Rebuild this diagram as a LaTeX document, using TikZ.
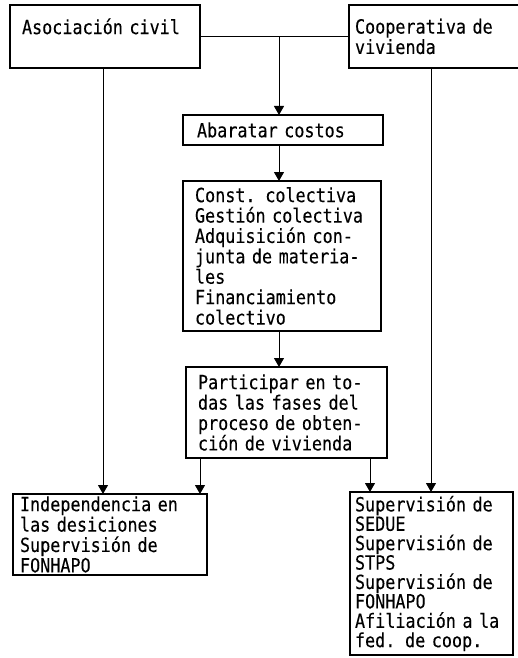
\documentclass[tikz,border=0pt]{standalone}
\usepackage{fontspec}
\usepackage{tikz}
\usetikzlibrary{positioning, arrows.meta, calc}
\newfontfamily\tw[FakeStretch=0.86,FakeBold=0.2]{DejaVu Sans Mono}
\tikzset{
    box/.style={
        draw=black,
        line width=1.6pt,
        anchor=north west,
        align=left,
        inner ysep=0pt,
        outer sep=0pt,
        font=\tw\fontsize{19.5}{20.4}\selectfont
    },
    link/.style={
        line width=0.9pt
    },
    arr/.style={
        line width=0.9pt,
        -{Triangle[width=10pt,length=9pt]}
    }
}
\begin{document}
\begin{tikzpicture}[x=1pt,y=-1pt]

      \useasboundingbox (0,0) rectangle (517,658);

      \node[box, text width=166pt, inner xsep=12pt, minimum height=63pt] (civil) at (10,5) {Asociación civil\\\mbox{}};
      \node[box, text width=169pt, inner xsep=6pt, minimum height=63pt] (coop) at (349,5) {Cooperativa de\\vivienda};
      \node[box, text width=172pt, inner xsep=14pt, minimum height=30pt] (abaratar) at (183,115) {Abaratar costos};
      \node[box, text width=174pt, inner xsep=12pt, minimum height=150pt] (const) at (183,181) {Const. colectiva\\Gestión colectiva\\Adquisición con-\\junta de materia-\\les\\Financiamiento\\colectivo};
      \node[box, text width=177pt, inner xsep=12pt, minimum height=91pt] (part) at (186,367) {Participar en to-\\das las fases del\\proceso de obten-\\ción de vivienda};
      \node[box, text width=180pt, inner xsep=7pt, minimum height=81pt] (indep) at (13,494) {Independencia en\\las desiciones\\Supervisión de\\FONHAPO};
      \node[box, text width=153pt, inner xsep=5pt, minimum height=163pt,
            font=\tw\fontsize{19.5}{19.4}\selectfont] (superv) at (350,492) {Supervisión de\\SEDUE\\Supervisión de\\STPS\\Supervisión de\\FONHAPO\\Afiliación a la\\fed. de coop.};

      \coordinate (mid) at (279,0);
      \coordinate (lx) at (103,0);
      \coordinate (rx) at (431,0);
      \coordinate (pl) at (200,0);
      \coordinate (pr) at (370,0);

      \draw[link] (civil.east) -- (coop.west);
      \draw[arr] (civil.east -| mid) -- (abaratar.north -| mid);
      \draw[arr] (abaratar.south -| mid) -- (const.north -| mid);
      \draw[arr] (const.south -| mid) -- (part.north -| mid);
      \draw[arr] (civil.south -| lx) -- (indep.north -| lx);
      \draw[arr] (coop.south -| rx) -- (superv.north -| rx);
      \draw[arr] (part.south -| pl) -- (indep.north -| pl);
      \draw[arr] (part.south -| pr) -- (superv.north -| pr);

    \end{tikzpicture}
\end{document}
